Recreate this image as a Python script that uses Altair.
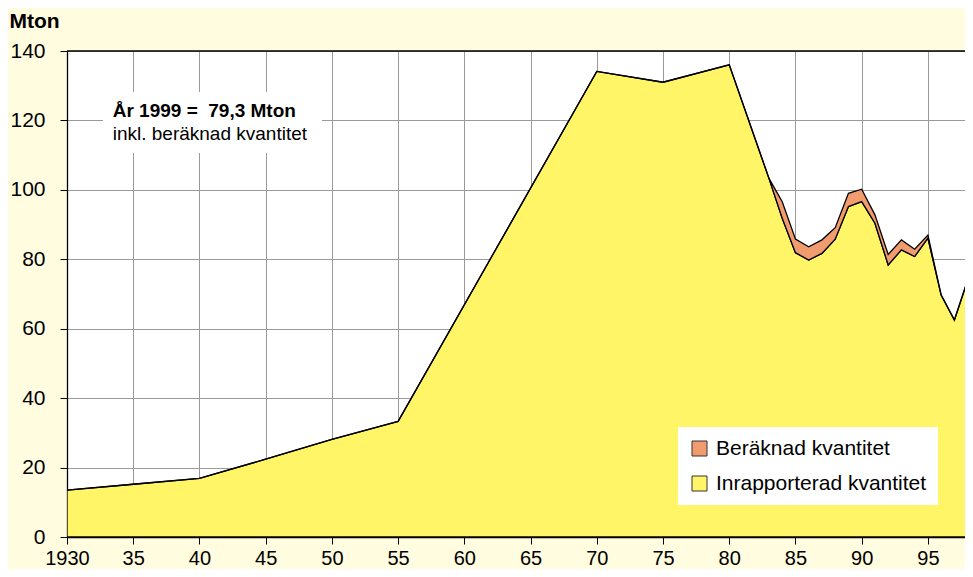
import altair as alt
import pandas as pd

# ---- data ----
years = [1930, 1935, 1940, 1945, 1950, 1955, 1970, 1975, 1980,
         1983, 1984, 1985, 1986, 1987, 1988, 1989, 1990, 1991,
         1992, 1993, 1994, 1995, 1996, 1997, 1998, 1999]
reported = [13.5, 15.2, 16.9, 22.4, 28.1, 33.3, 134.1, 131.0, 136.0,
            103.3, 91.8, 81.9, 79.8, 81.7, 85.8, 95.2, 96.6, 90.4,
            78.4, 82.7, 80.8, 86.1, 69.7, 62.5, 74.0, 79.3]
estimated = [0, 0, 0, 0, 0, 0, 0, 0, 0,
             0, 4.8, 3.9, 3.8, 3.9, 3.3, 3.8, 3.6, 2.4,
             3.0, 2.9, 2.1, 0.9, 0, 0, 0, 0]
series_names = ["Beräknad kvantitet", "Inrapporterad kvantitet"]
series_colors = ["#F19C6E", "#FFF566"]
x_ticks = [1930, 1935, 1940, 1945, 1950, 1955, 1960, 1965, 1970, 1975, 1980, 1985, 1990, 1995]
y_ticks = [0, 20, 40, 60, 80, 100, 120, 140]
note_bold = "År 1999 =\u00a0 79,3 Mton"
note_plain = "inkl. beräknad kvantitet"

rows = []
for y, r, e in zip(years, reported, estimated):
    rows.append({"year": y, "value": r, "series": series_names[1], "ord": 0})
    rows.append({"year": y, "value": e, "series": series_names[0], "ord": 1})
df = pd.DataFrame(rows)

FONT = "Arial, Liberation Sans, sans-serif"
xscale = alt.Scale(domain=[1930, 1997.8], nice=False, zero=False)
yscale = alt.Scale(domain=[0, 140], nice=False)

area = alt.Chart(df).mark_area(stroke="black", strokeWidth=1.3, clip=True, opacity=1).encode(
    x=alt.X("year:Q", scale=xscale,
            axis=alt.Axis(values=x_ticks, grid=True, gridColor="#9a9a9a", gridWidth=1,
                          domainColor="black", domainWidth=1.3, tickColor="black", tickSize=7,
                          labelFontSize=20, labelColor="black", labelPadding=4, labelFont=FONT,
                          labelExpr="datum.value == 1930 ? '1930' : slice(toString(datum.value), 2)",
                          title=None, labelFlush=False)),
    y=alt.Y("value:Q", stack="zero", scale=yscale,
            axis=alt.Axis(values=y_ticks, grid=True, gridColor="#9a9a9a", gridWidth=1,
                          domainColor="black", domainWidth=1.3, tickColor="black", tickSize=7,
                          labelFontSize=21, labelColor="black", labelPadding=15, labelFont=FONT,
                          title="Mton", titleAngle=0, titleX=-58, titleY=-24, titleAlign="left",
                          titleBaseline="alphabetic", titleFontSize=21, titleFontWeight="bold",
                          titleFont=FONT, titleColor="black")),
    color=alt.Color("series:N", scale=alt.Scale(domain=series_names, range=series_colors),
                    legend=alt.Legend(title=None, orient="none", legendX=611, legendY=376,
                                      fillColor="white", padding=11, symbolType="square",
                                      symbolSize=225, symbolStrokeColor="#333333",
                                      symbolStrokeWidth=1, symbolOpacity=1,
                                      labelFontSize=21, labelFont=FONT, labelColor="black",
                                      rowPadding=13, labelOffset=6, labelLimit=400)),
    order=alt.Order("ord:Q"),
)

top_rule = alt.Chart(pd.DataFrame({"y": [140]})).mark_rule(color="black", strokeWidth=1.5).encode(
    y=alt.Y("y:Q", scale=yscale)
)

note_box = alt.Chart(pd.DataFrame({"x": [1932.72], "x2": [1949.25], "y": [110.6], "y2": [128.2]})).mark_rect(
    color="white"
).encode(x=alt.X("x:Q", scale=xscale), x2="x2:Q", y=alt.Y("y:Q", scale=yscale), y2="y2:Q")

note1 = alt.Chart(pd.DataFrame({"x": [1933.45], "y": [121.0], "t": [note_bold]})).mark_text(
    align="left", baseline="alphabetic", fontSize=19, fontWeight="bold", font=FONT, color="black"
).encode(x=alt.X("x:Q", scale=xscale), y=alt.Y("y:Q", scale=yscale), text="t:N")

note2 = alt.Chart(pd.DataFrame({"x": [1933.45], "y": [114.4], "t": [note_plain]})).mark_text(
    align="left", baseline="alphabetic", fontSize=19, font=FONT, color="black"
).encode(x=alt.X("x:Q", scale=xscale), y=alt.Y("y:Q", scale=yscale), text="t:N")

chart = alt.layer(note_box, area, top_rule, note1, note2).properties(
    width=898, height=486,
    autosize=alt.AutoSizeParams(type="none"),
    padding={"left": 59, "top": 43, "right": 0, "bottom": 32},
    background="#FFFCDF",
).configure_view(stroke=None, fill="white")

chart.save("out.html", embed_options={"renderer": "svg", "actions": False})
